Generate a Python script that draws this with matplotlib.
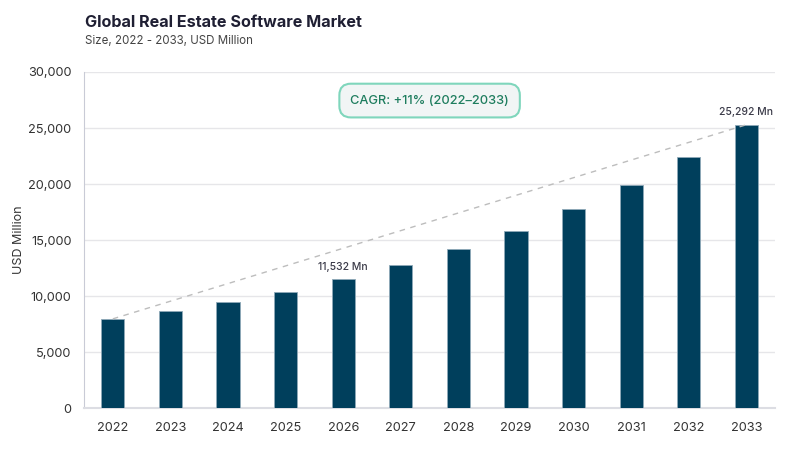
import matplotlib.pyplot as plt
from matplotlib.ticker import FuncFormatter

plt.rcParams['font.family'] = ['Inter', 'DejaVu Sans']

years = ['2022', '2023', '2024', '2025', '2026', '2027',
         '2028', '2029', '2030', '2031', '2032', '2033']
market_size = [7960, 8630, 9440, 10400, 11532, 12750,
               14200, 15830, 17740, 19920, 22410, 25292]
labelled = {4: '11,532 Mn', 11: '25,292 Mn'}
cagr_text = 'CAGR: +11% (2022–2033)'

fig = plt.figure(figsize=(8, 4.5), dpi=100)
ax = fig.add_axes([0.105, 0.0933, 0.864, 0.7467])

x = range(len(years))
ax.bar(x, market_size, width=0.4, color='#003f5c', edgecolor='#8fa9b8',
       linewidth=0.6, zorder=3)

# dashed trend line from first to last bar top
ax.plot([0, len(years) - 1], [market_size[0], market_size[-1]],
        linestyle=(0, (4, 4)), color='#bdbdbd', linewidth=1, zorder=4)

for i, txt in labelled.items():
    ax.text(i, market_size[i] + 650, txt, ha='center', va='bottom',
            fontsize=7.5, color='#3a3a48', fontweight='medium')

ax.set_xlim(-0.5, len(years) - 0.5)
ax.set_ylim(0, 30000)
ax.set_yticks(range(0, 30001, 5000))
ax.yaxis.set_major_formatter(FuncFormatter(lambda v, p: f'{int(v):,}'))
ax.set_xticks(list(x))
ax.set_xticklabels(years)
ax.tick_params(axis='both', length=0, labelsize=9.2, colors='#333333')
ax.tick_params(axis='x', pad=10)
ax.tick_params(axis='y', pad=9)
ax.grid(axis='y', color='#e6e6e9', linewidth=1, zorder=0)
for side in ['top', 'right']:
    ax.spines[side].set_visible(False)
ax.spines['left'].set_color('#c9cbd6')
ax.spines['bottom'].set_color('#dcdde3')
ax.spines['bottom'].set_linewidth(1.5)
ax.set_ylabel('USD Million', fontsize=9, color='#333333')
ax.yaxis.set_label_coords(-0.085, 0.5)

ax.text(0.5, 0.915, cagr_text, transform=ax.transAxes, ha='center', va='center',
        fontsize=9.2, color='#1e7d5e', fontweight='medium',
        bbox=dict(boxstyle='round,pad=0.85,rounding_size=0.9', facecolor='#f1f5f5',
                  edgecolor='#7fd6bc', linewidth=1.5))

fig.text(0.106, 0.949, 'Global Real Estate Software Market', fontsize=11.6,
         fontweight='bold', color='#1f1f33', va='center')
fig.text(0.106, 0.909, 'Size, 2022 - 2033, USD Million', fontsize=8.3,
         color='#444444', va='center')

fig.savefig('out.png', dpi=100)
